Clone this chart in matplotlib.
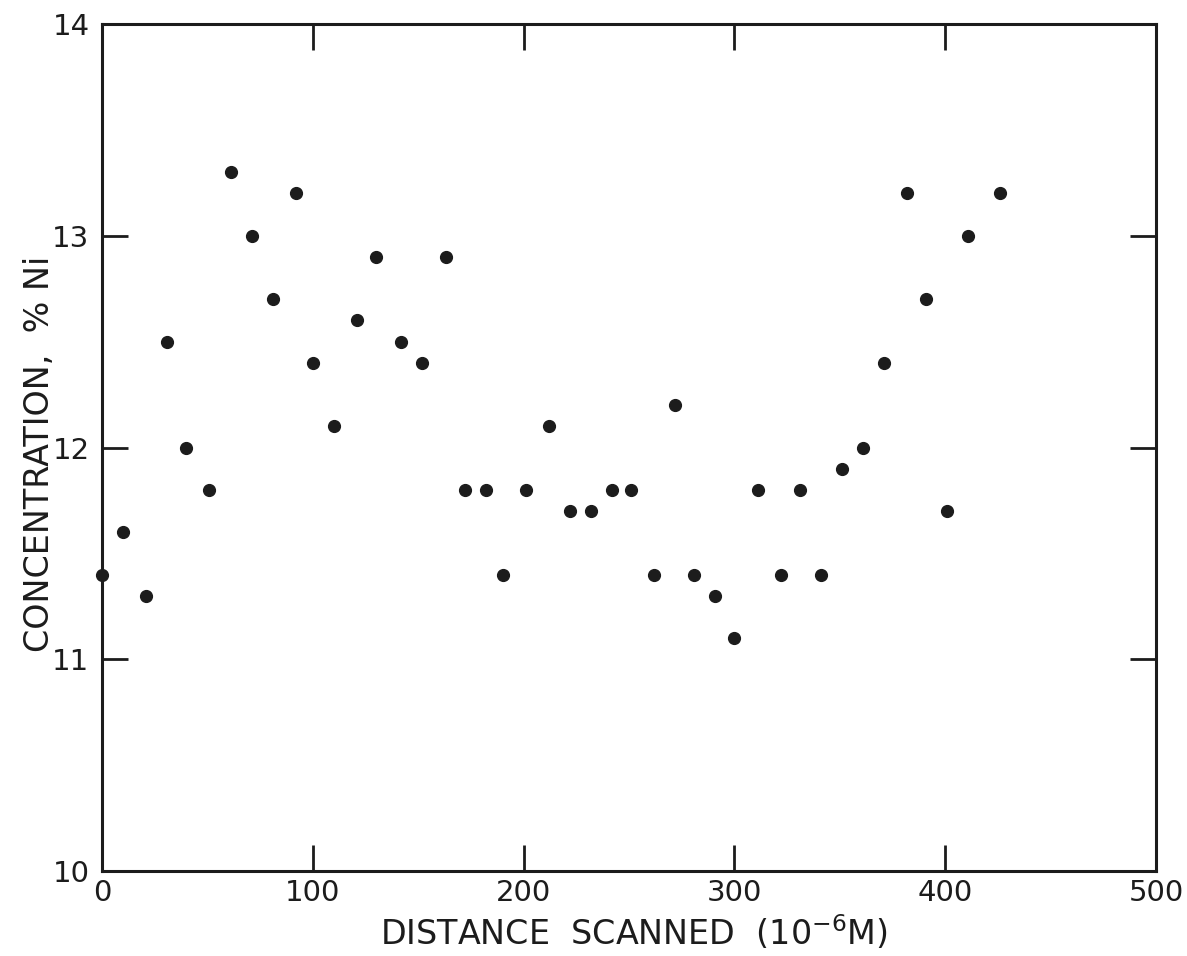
import numpy as np
import matplotlib.pyplot as plt

plt.rcParams['font.family'] = ['DejaVu Sans']

# distance scanned (10^-6 m) and Ni concentration (%)
distance = [0, 10, 21, 31, 40, 51, 61, 71, 81, 92, 100, 110, 121, 130, 142,
            152, 163, 172, 182, 190, 201, 212, 222, 232, 242, 251, 262, 272,
            281, 291, 300, 311, 322, 331, 341, 351, 361, 371, 382, 391, 401,
            411, 426]
conc_ni = [11.4, 11.6, 11.3, 12.5, 12.0, 11.8, 13.3, 13.0, 12.7, 13.2, 12.4,
           12.1, 12.6, 12.9, 12.5, 12.4, 12.9, 11.8, 11.8, 11.4, 11.8, 12.1,
           11.7, 11.7, 11.8, 11.8, 11.4, 12.2, 11.4, 11.3, 11.1, 11.8, 11.4,
           11.8, 11.4, 11.9, 12.0, 12.4, 13.2, 12.7, 11.7, 13.0, 13.2]

x_ticks = [0, 100, 200, 300, 400, 500]
y_ticks = [10, 11, 12, 13, 14]

fig = plt.figure(figsize=(11.87, 9.56), dpi=100)
ax = fig.add_axes([0.0859, 0.0889, 0.888, 0.886])

ax.scatter(distance, conc_ni, s=72, color='#1c1c1c', zorder=3, clip_on=False)

ax.set_xlim(0, 500)
ax.set_ylim(10, 14)
ax.set_xticks(x_ticks)
ax.set_yticks(y_ticks)
ax.set_xticklabels([str(v) for v in x_ticks])
ax.set_yticklabels([str(v) for v in y_ticks])

ax.tick_params(axis='both', direction='in', length=19, width=2,
               colors='#1c1c1c', labelsize=21, top=True, right=True)
ax.tick_params(axis='x', pad=6)
ax.tick_params(axis='y', pad=9)

for s in ax.spines.values():
    s.set_linewidth(2.2)
    s.set_color('#1c1c1c')

ax.set_xlabel('DISTANCE  SCANNED  (10$^{-6}$M)', fontsize=24,
              color='#1c1c1c')
ax.xaxis.set_label_coords(0.505, -0.05)
ax.set_ylabel('CONCENTRATION,  % Ni', fontsize=24, color='#1c1c1c')
ax.yaxis.set_label_coords(-0.044, 0.492)

fig.savefig('out.png', dpi=100)
